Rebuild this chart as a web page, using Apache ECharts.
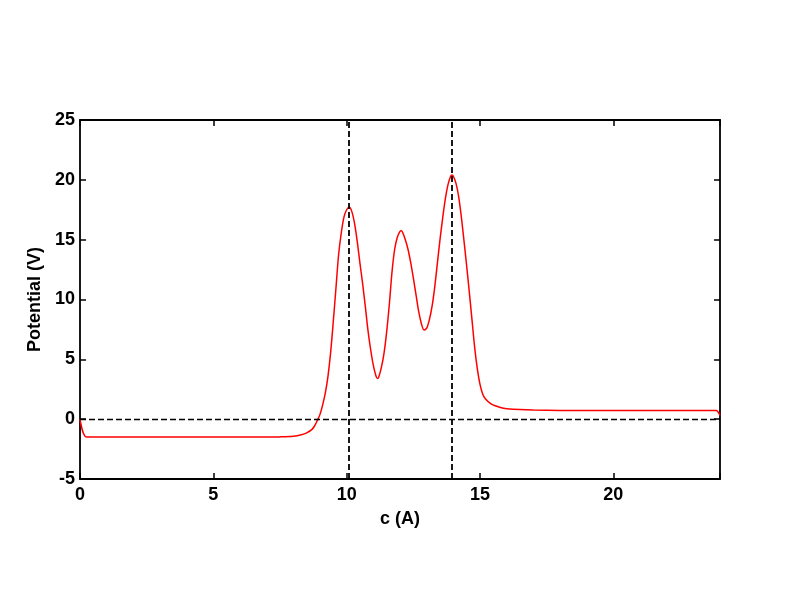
<!DOCTYPE html>
<html><head><meta charset="utf-8">
<script src="https://cdn.jsdelivr.net/npm/echarts@6/dist/echarts.min.js"></script>
<style>html,body{margin:0;padding:0;background:#fff}#c{width:800px;height:599px}</style>
</head><body><div id="c"></div>
<script>
var cValues = [0, 0.25, 1, 2, 3, 4, 5, 6, 7, 7.5, 8.0, 8.3, 8.5, 8.7, 8.8, 8.9, 9.0, 9.1, 9.2, 9.3, 9.4, 9.5, 9.6, 9.7, 9.8, 9.9, 10.0, 10.1, 10.2, 10.3, 10.4, 10.5, 10.6, 10.7, 10.8, 10.9, 11.0, 11.1, 11.15, 11.2, 11.3, 11.4, 11.5, 11.6, 11.7, 11.8, 11.9, 12.0, 12.05, 12.1, 12.2, 12.3, 12.4, 12.5, 12.6, 12.7, 12.8, 12.9, 13.0, 13.1, 13.2, 13.3, 13.4, 13.5, 13.6, 13.7, 13.8, 13.9, 13.95, 14.0, 14.1, 14.2, 14.3, 14.4, 14.5, 14.6, 14.7, 14.8, 14.9, 15.0, 15.1, 15.2, 15.4, 15.6, 15.8, 16.0, 16.5, 17, 18, 20, 22, 23.85, 24];
var potential = [0, -1.5, -1.5, -1.5, -1.5, -1.5, -1.5, -1.5, -1.5, -1.48, -1.42, -1.3, -1.15, -0.85, -0.55, -0.1, 0.4, 1.2, 2.2, 3.6, 5.6, 8.2, 11.0, 13.8, 15.6, 16.9, 17.5, 17.7, 17.3, 16.3, 14.8, 13.0, 11.3, 9.4, 7.4, 5.8, 4.5, 3.6, 3.4, 3.5, 4.3, 5.5, 7.3, 9.6, 12.3, 14.2, 15.2, 15.7, 15.75, 15.6, 15.0, 14.2, 13.1, 11.8, 10.4, 9.0, 8.0, 7.45, 7.6, 8.3, 9.4, 11.0, 13.0, 15.0, 16.8, 18.4, 19.6, 20.3, 20.4, 20.3, 19.7, 18.6, 16.9, 14.9, 12.8, 10.6, 8.3, 6.0, 4.2, 2.9, 2.1, 1.7, 1.3, 1.1, 0.95, 0.88, 0.8, 0.76, 0.73, 0.72, 0.72, 0.72, 0.3];
var xTicks = [0, 5, 10, 15, 20];
var yTicks = [-5, 0, 5, 10, 15, 20, 25];
var vLines = [10.09, 13.93];
var hLine = 0;

var data = cValues.map(function (c, i) { return [c, potential[i]]; });
var font = {fontFamily: 'Liberation Sans, Arial, sans-serif', fontWeight: 'bold', fontSize: 18, color: '#000'};
var axisLine = {show: true, onZero: false, lineStyle: {color: '#000', width: 1.8}};
var tick = {show: true, inside: true, length: 6, lineStyle: {color: '#000', width: 1.5}};
var chart = echarts.init(document.getElementById('c'));
chart.setOption({
  animation: false,
  backgroundColor: '#fff',
  grid: {left: 80, right: 80, top: 120, bottom: 120, containLabel: false},
  xAxis: [
    {type: 'value', min: 0, max: 24, interval: 5, position: 'bottom',
     name: 'c (A)', nameLocation: 'middle', nameGap: 31, nameTextStyle: font,
     axisLine: axisLine, axisTick: tick, splitLine: {show: false},
     axisLabel: Object.assign({margin: 7, formatter: function (v) { return xTicks.indexOf(v) >= 0 ? String(v) : ''; }}, font)},
    {type: 'value', min: 0, max: 24, interval: 5, position: 'top',
     axisLine: axisLine, axisTick: tick, splitLine: {show: false}, axisLabel: {show: false}}
  ],
  yAxis: [
    {type: 'value', min: -5, max: 25, interval: 5, position: 'left',
     name: 'Potential (V)', nameLocation: 'middle', nameGap: 36, nameTextStyle: font,
     axisLine: axisLine, axisTick: tick, splitLine: {show: false},
     axisLabel: Object.assign({margin: 5, formatter: function (v) { return yTicks.indexOf(v) >= 0 ? String(v) : ''; }}, font)},
    {type: 'value', min: -5, max: 25, interval: 5, position: 'right',
     axisLine: axisLine, axisTick: tick, splitLine: {show: false}, axisLabel: {show: false}}
  ],
  series: [{
    type: 'line', data: data, showSymbol: false, smooth: 0.3,
    lineStyle: {color: '#ff0000', width: 1.5}, z: 3,
    markLine: {
      silent: true, symbol: 'none', label: {show: false},
      lineStyle: {color: '#000', type: [6, 3], width: 1.4},
      data: [{yAxis: hLine}].concat(vLines.map(function (v) {
        return {xAxis: v, lineStyle: {color: '#000', type: [6, 3], width: 1.8}};
      }))
    }
  }]
});
</script></body></html>
